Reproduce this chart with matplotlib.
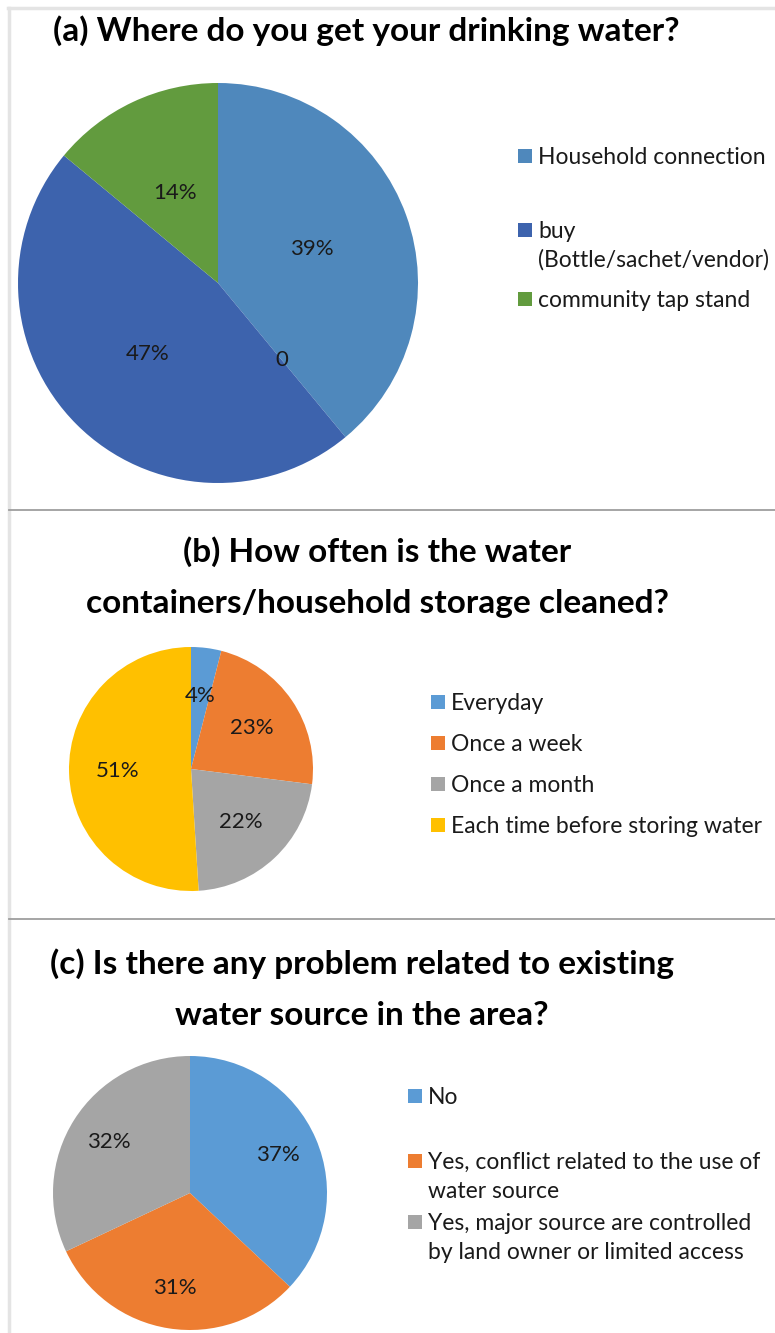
import matplotlib
matplotlib.use("Agg")
import numpy as np
import matplotlib.pyplot as plt
import matplotlib.patches as patches
from matplotlib.lines import Line2D

W, H = 775, 1333

# (a) drinking water source ("" = zero slice that Excel still labels "0")
cats_a = ["Household connection", "", "buy\n(Bottle/sachet/vendor)", "community tap stand"]
vals_a = [39, 0, 47, 14]
cols_a = ["#4F88BC", "#3D63AD", "#3D63AD", "#629B3E"]

# (b) container cleaning frequency
cats_b = ["Everyday", "Once a week", "Once a month", "Each time before storing water"]
vals_b = [4, 23, 22, 51]
cols_b = ["#5B9BD5", "#ED7D31", "#A5A5A5", "#FFC000"]

# (c) problems with water source
cats_c = ["No", "Yes, conflict related to the use of\nwater source",
          "Yes, major source are controlled\nby land owner or limited access"]
vals_c = [37, 31, 32]
cols_c = ["#5B9BD5", "#ED7D31", "#A5A5A5"]

titles = ["(a) Where do you get your drinking water?",
          "(b) How often is the water\ncontainers/household storage cleaned?",
          "(c) Is there any problem related to existing\nwater source in the area?"]

plt.rcParams['font.family'] = ['Lato', 'DejaVu Sans']

fig = plt.figure(figsize=(W / 100, H / 100), dpi=100)


def fx(x):
    return x / W


def fy(y):
    return 1 - y / H


def draw_pie(vals, cols, cx, cy, r, dist, fs):
    ax = fig.add_axes([fx(cx - r), fy(cy + r), 2 * r / W, 2 * r / H])
    wedges, _ = ax.pie(vals, colors=cols, startangle=90, counterclock=False,
                       radius=1, wedgeprops=dict(linewidth=0))
    ax.set_xlim(-1, 1)
    ax.set_ylim(-1, 1)
    ax.axis('off')
    for w, v in zip(wedges, vals):
        a = np.deg2rad((w.theta1 + w.theta2) / 2)
        txt = f"{v}%" if v else "0"
        ax.text(dist * np.cos(a), dist * np.sin(a), txt, ha='center', va='center',
                fontsize=fs, color='#1a1a1a')
    return ax


def draw_legend(cats, cols, x, ys, fs, gap=29):
    for c, col, y in zip(cats, cols, ys):
        if not c:
            continue
        fig.add_artist(patches.Rectangle((fx(x), fy(y + 7)), 14 / W, 14 / H,
                                         transform=fig.transFigure, facecolor=col,
                                         edgecolor='none'))
        for i, line in enumerate(c.split('\n')):
            fig.text(fx(x + 20), fy(y + 8 + i * gap), line, ha='left', va='baseline',
                     fontsize=fs, color='#1a1a1a')


# frame and separators
fig.add_artist(Line2D([fx(9), fx(9)], [fy(8), 0], color='#E4E4E4', lw=2.5,
                      transform=fig.transFigure))
fig.add_artist(Line2D([fx(8), 1], [fy(8), fy(8)], color='#E4E4E4', lw=2.5,
                      transform=fig.transFigure))
for yy in [510, 919]:
    fig.add_artist(Line2D([fx(9), 1], [fy(yy), fy(yy)], color='#9E9E9E', lw=1.3,
                          transform=fig.transFigure))

# titles
fig.text(fx(366), fy(31), titles[0], ha='center', va='center', fontsize=24,
         fontweight='bold')
fig.text(fx(377), fy(577), titles[1], ha='center', va='center', fontsize=24,
         fontweight='bold', linespacing=1.92)
fig.text(fx(362), fy(989), titles[2], ha='center', va='center', fontsize=24,
         fontweight='bold', linespacing=1.92)

draw_pie(vals_a, cols_a, 218, 283, 200, 0.5, 16)
draw_pie(vals_b, cols_b, 191, 769, 122, 0.6, 16)
draw_pie(vals_c, cols_c, 190, 1193, 137, 0.7, 16)

draw_legend(cats_a, cols_a, 518, [156, 0, 230, 299], 16.5)
draw_legend(cats_b, cols_b, 431, [702, 743, 784, 825], 16.5)
draw_legend(cats_c, cols_c, 408, [1096, 1161, 1222], 16.5)

fig.savefig("out.png", dpi=100)
